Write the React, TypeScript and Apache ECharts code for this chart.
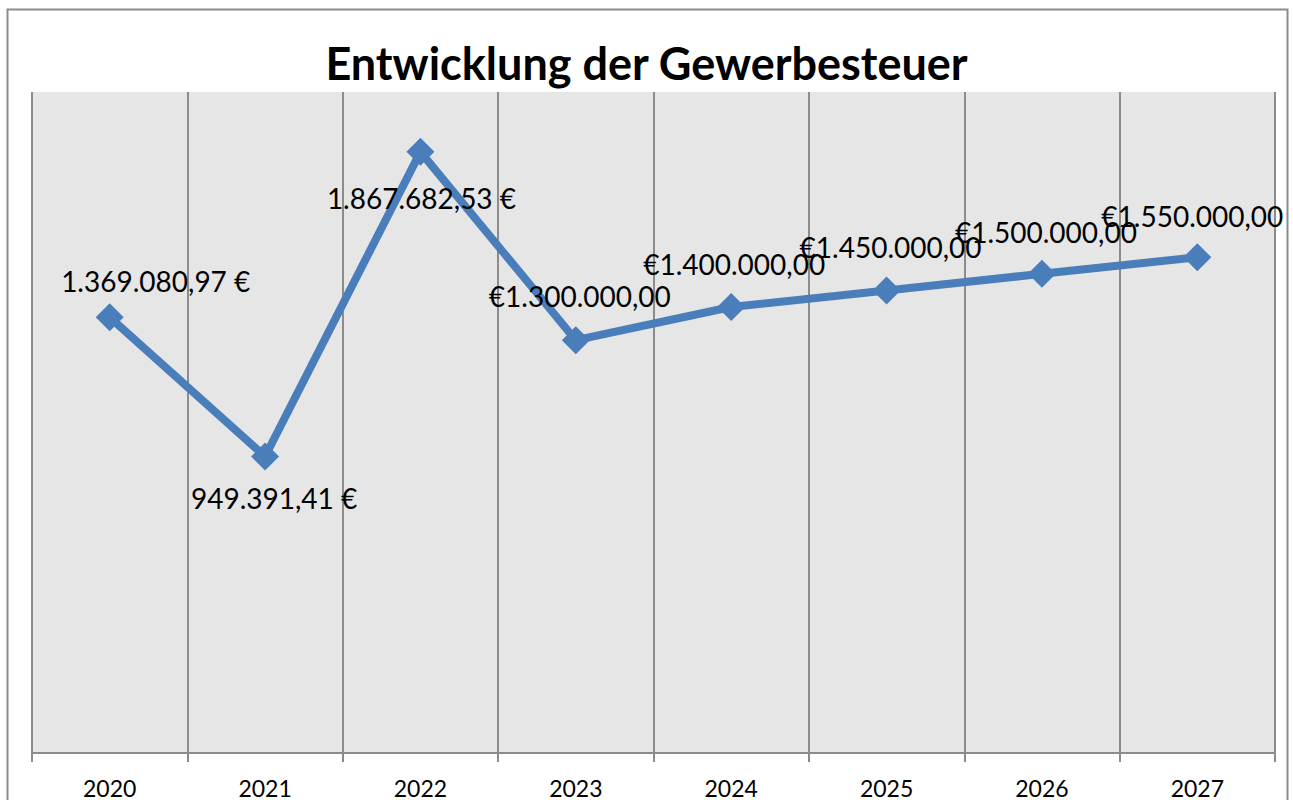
import React, { useEffect, useRef } from "react";
import * as echarts from "echarts";

const categories = ["2020", "2021", "2022", "2023", "2024", "2025", "2026", "2027"];
const values = [1369080.97, 949391.41, 1867682.53, 1300000, 1400000, 1450000, 1500000, 1550000];
// "suffix": 1.369.080,97 €   "prefix": €1.300.000,00
const labelStyles = ["suffix", "suffix", "suffix", "prefix", "prefix", "prefix", "prefix", "prefix"];
const labelOffsets: [number, number][] = [
  [46, -36],
  [9, 41],
  [1, 46],
  [4, -44],
  [3, -43],
  [4, -43],
  [4, -42],
  [-5, -41],
];
const titleText = "Entwicklung der Gewerbesteuer";

function fmtDe(v: number): string {
  const fixed = v.toFixed(2);
  const [intPart, dec] = fixed.split(".");
  const withDots = intPart.replace(/\B(?=(\d{3})+(?!\d))/g, ".");
  return withDots + "," + dec;
}

const FONT = "Lato";

export default function App() {
  const ref = useRef<HTMLDivElement>(null);
  useEffect(() => {
    if (!ref.current) return;
    const chart = echarts.init(ref.current, undefined, { renderer: "svg" });
    chart.setOption({
      animation: false,
      backgroundColor: "#ffffff",
      title: {
        text: titleText,
        left: "center",
        top: 35,
        textStyle: { fontFamily: FONT, fontWeight: "bold", fontSize: 45, color: "#000" },
      },
      graphic: [
        {
          type: "rect",
          shape: { x: 7.5, y: 9.5, width: 1280, height: 800 },
          style: { fill: "none", stroke: "#8c8c8c", lineWidth: 2 },
          silent: true,
          z: -1,
        },
      ],
      grid: {
        left: 32,
        right: 18,
        top: 92,
        bottom: 47,
        show: true,
        backgroundColor: "#e6e6e6",
        borderWidth: 0,
      },
      xAxis: {
        type: "category",
        data: categories,
        boundaryGap: true,
        axisLine: { lineStyle: { color: "#8c8c8c", width: 2 } },
        axisTick: { show: true, length: 9, lineStyle: { color: "#8c8c8c", width: 2 } },
        axisLabel: { fontFamily: FONT, fontSize: 23, color: "#000", margin: 23 },
        splitLine: { show: true, lineStyle: { color: "#8c8c8c", width: 2 } },
      },
      yAxis: {
        type: "value",
        min: 56000,
        max: 2048000,
        show: false,
        splitLine: { show: false },
      },
      series: [
        {
          type: "line",
          data: values.map((v, i) => ({
            value: v,
            label: { offset: labelOffsets[i] },
          })),
          symbol: "diamond",
          symbolSize: 28,
          lineStyle: { color: "#4a7ebb", width: 8 },
          itemStyle: { color: "#4a7ebb" },
          label: {
            show: true,
            position: "inside",
            fontFamily: FONT,
            fontSize: 28,
            color: "#000",
            formatter: (p: any) =>
              labelStyles[p.dataIndex] === "suffix" ? fmtDe(p.value) + " €" : "€" + fmtDe(p.value),
          },
        },
      ],
    });
    return () => chart.dispose();
  }, []);
  return (
    <div
      ref={ref}
      style={{ position: "absolute", left: 0, top: 0, width: 1293, height: 800 }}
    />
  );
}
